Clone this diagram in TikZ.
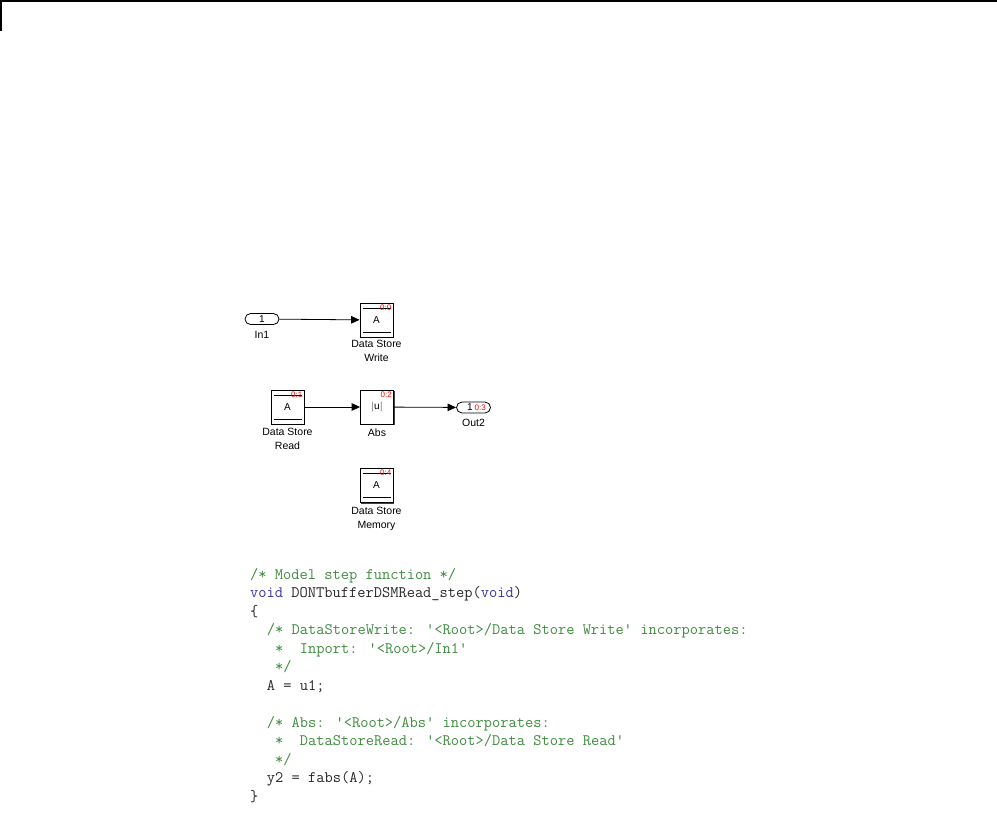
\documentclass[tikz,border=0pt]{standalone}
\usepackage{fontspec}
\setsansfont{Liberation Sans}
\usepackage{tikz}
\usetikzlibrary{arrows.meta}
\usetikzlibrary{positioning}
\usetikzlibrary{shadows}

\definecolor{cmtgreen}{RGB}{62,140,62}
\definecolor{kwblue}{RGB}{52,52,165}
\definecolor{codegray}{RGB}{40,40,40}
\newcommand{\sq}{\textquotesingle}

\begin{document}
\begin{tikzpicture}[x=1pt, y=-1pt, >={Triangle[length=8.5pt,width=7.5pt]},
  blk/.style={draw, line width=0.8pt, fill=white, minimum width=33pt, minimum height=34pt, inner sep=0pt,
    font=\sffamily\fontsize{10}{12}\selectfont,
    drop shadow={shadow xshift=1.3pt, shadow yshift=-1.3pt, fill=black!75, opacity=1}},
  dstore/.style={blk, path picture={
    \draw[line width=0.8pt] ([xshift=2.5pt,yshift=-5pt]path picture bounding box.north west) -- ([xshift=-2.5pt,yshift=-5pt]path picture bounding box.north east);
    \draw[line width=0.8pt] ([xshift=2.5pt,yshift=5pt]path picture bounding box.south west) -- ([xshift=-2.5pt,yshift=5pt]path picture bounding box.south east);}},
  port/.style={draw, line width=0.8pt, rounded corners=5.5pt, minimum width=34pt, minimum height=11pt, inner sep=0pt,
    font=\sffamily\fontsize{10}{10}\selectfont},
  lbl/.style={align=center, inner sep=0pt, font=\sffamily\fontsize{10.5}{14}\selectfont},
  stime/.style={text=red, inner sep=0pt, font=\sffamily\fontsize{8}{8}\selectfont},
  code/.style={anchor=base west, inner sep=0pt, text=codegray, font=\ttfamily\fontsize{16}{18}\selectfont},
  cmt/.style={code, text=cmtgreen},
  wire/.style={->, line width=0.8pt}]
\useasboundingbox (0,0) rectangle (997,815);
% frame corner
\draw[line width=1.5pt] (0,1) -- (997,1);
\draw[line width=1.5pt] (1,0) -- (1,31);

% model
\node[port] (1) at (262,319) {1};
\node[lbl, below=6pt of 1] (1l) {In1};
\node[dstore] (2) at (376.5,320) {A};
\node[lbl, below=3pt of 2] (2l) {Data Store\\Write};
\node[stime, anchor=north east] at ([xshift=-2pt,yshift=-2pt]2.north east) {0:0};

\node[dstore] (3) at (287.5,407) {A};
\node[lbl, below=4pt of 3] (3l) {Data Store\\Read};
\node[stime, anchor=north east] at ([xshift=-2pt,yshift=-2pt]3.north east) {0:1};
\node[blk] (4) at (377,407) {$|$u$|$};
\node[lbl, below=4pt of 4] (4l) {Abs};
\node[stime, anchor=north east] at ([xshift=-2pt,yshift=-2pt]4.north east) {0:2};
\node[port] (5) at (473.5,407.5) {\hspace*{-7pt}1};
\node[lbl, below=6pt of 5] (5l) {Out2};
\node[stime, anchor=east] at ([xshift=-5pt]5.east) {0:3};

\node[dstore] (6) at (376.5,485.5) {A};
\node[lbl, below=4pt of 6] (6l) {Data Store\\Memory};
\node[stime, anchor=north east] at ([xshift=-2pt,yshift=-2pt]6.north east) {0:4};

\draw[wire] (1) -- (2);
\draw[wire] (3) -- (4);
\draw[wire] (4) -- (5);

% generated code
\node[cmt] (c1) at (250,579) {/* Model step function */};
\node[code] (c2) at (250,597.5) {\textcolor{kwblue}{void} DONTbufferDSMRead\_step(\textcolor{kwblue}{void})};
\node[code] (c3) at (250,616) {\{};
\node[cmt] (c4) at (266.7,634.5) {/* DataStoreWrite: \sq<Root>/Data Store Write\sq{} incorporates:};
\node[cmt] (c5) at (275,653) {*~~Inport: \sq<Root>/In1\sq};
\node[cmt] (c6) at (275,671.5) {*/};
\node[code] (c7) at (266.7,690) {A = u1;};
\node[cmt] (c9) at (266.7,727) {/* Abs: \sq<Root>/Abs\sq{} incorporates:};
\node[cmt] (c10) at (275,745.5) {*~~DataStoreRead: \sq<Root>/Data Store Read\sq};
\node[cmt] (c11) at (275,764) {*/};
\node[code] (c12) at (266.7,782.5) {y2 = fabs(A);};
\node[code] (c13) at (250,801) {\}};
\end{tikzpicture}
\end{document}
